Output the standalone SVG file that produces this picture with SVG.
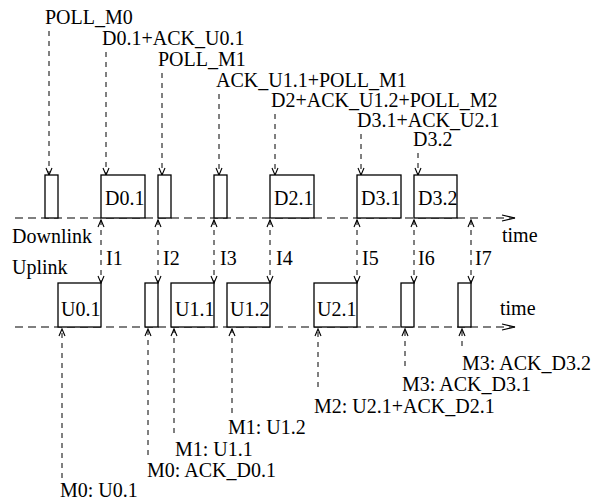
<svg xmlns="http://www.w3.org/2000/svg" width="601" height="502" viewBox="0 0 601 502">
<style>
text{font-family:"Liberation Serif","Times New Roman",serif;font-size:20px;fill:#000}
.box{fill:#fff;stroke:#000;stroke-width:1.3}
.dash{stroke:#000;stroke-width:1;stroke-dasharray:5 5;fill:none}
.axis{stroke:#000;stroke-width:1.1;stroke-dasharray:8 5;fill:none}
</style>
<defs>
<marker id="ah" viewBox="-9 -5 11 10" refX="0" refY="0" markerWidth="11" markerHeight="10" markerUnits="userSpaceOnUse" orient="auto-start-reverse">
<path d="M-7,-3 L0,0 L-7,3" fill="none" stroke="#000" stroke-width="1.1" stroke-dasharray="none"/>
</marker>
<marker id="ax" viewBox="-14 -5 16 10" refX="0" refY="0" markerWidth="16" markerHeight="10" markerUnits="userSpaceOnUse" orient="auto">
<path d="M-13,-3 L0,0 L-13,3" fill="none" stroke="#000" stroke-width="1.1" stroke-dasharray="none"/>
</marker>
</defs>
<rect width="601" height="502" fill="#fff"/>
<g id="connectors">
<line class="axis" x1="15" y1="218" x2="515" y2="218" marker-end="url(#ax)"/>
<line class="axis" x1="15" y1="327" x2="515" y2="327" marker-end="url(#ax)"/>
<line class="dash" x1="49" y1="31" x2="49" y2="175" marker-end="url(#ah)"/>
<line class="dash" x1="106" y1="52" x2="106" y2="175" marker-end="url(#ah)"/>
<line class="dash" x1="162" y1="73" x2="162" y2="175" marker-end="url(#ah)"/>
<line class="dash" x1="219" y1="94" x2="219" y2="175" marker-end="url(#ah)"/>
<line class="dash" x1="275" y1="114" x2="275" y2="175" marker-end="url(#ah)"/>
<line class="dash" x1="361" y1="134" x2="361" y2="175" marker-end="url(#ah)"/>
<line class="dash" x1="418" y1="153" x2="418" y2="175" marker-end="url(#ah)"/>
<line class="dash" x1="101" y1="220" x2="101" y2="283" marker-start="url(#ah)" marker-end="url(#ah)"/>
<line class="dash" x1="158" y1="220" x2="158" y2="283" marker-start="url(#ah)" marker-end="url(#ah)"/>
<line class="dash" x1="214" y1="220" x2="214" y2="283" marker-start="url(#ah)" marker-end="url(#ah)"/>
<line class="dash" x1="270" y1="220" x2="270" y2="283" marker-start="url(#ah)" marker-end="url(#ah)"/>
<line class="dash" x1="357" y1="220" x2="357" y2="283" marker-start="url(#ah)" marker-end="url(#ah)"/>
<line class="dash" x1="414" y1="220" x2="414" y2="283" marker-start="url(#ah)" marker-end="url(#ah)"/>
<line class="dash" x1="471" y1="220" x2="471" y2="283" marker-start="url(#ah)" marker-end="url(#ah)"/>
<line class="dash" x1="62" y1="478" x2="62" y2="329" marker-end="url(#ah)"/>
<line class="dash" x1="148" y1="455" x2="148" y2="329" marker-end="url(#ah)"/>
<line class="dash" x1="174" y1="433" x2="174" y2="329" marker-end="url(#ah)"/>
<line class="dash" x1="232" y1="413" x2="232" y2="329" marker-end="url(#ah)"/>
<line class="dash" x1="318" y1="387" x2="318" y2="329" marker-end="url(#ah)"/>
<line class="dash" x1="405" y1="366" x2="405" y2="329" marker-end="url(#ah)"/>
<line class="dash" x1="462" y1="346" x2="462" y2="329" marker-end="url(#ah)"/>
</g>
<g id="dl1"><rect class="box" x="45" y="175" width="13" height="43"/></g>
<g id="dlD01"><rect class="box" x="101" y="175" width="44" height="43"/><text x="105" y="205">D0.1</text></g>
<g id="dl3"><rect class="box" x="158" y="175" width="13" height="43"/></g>
<g id="dl4"><rect class="box" x="214" y="175" width="13" height="43"/></g>
<g id="dlD21"><rect class="box" x="270" y="175" width="44" height="43"/><text x="274" y="205">D2.1</text></g>
<g id="dlD31"><rect class="box" x="357" y="175" width="44" height="43"/><text x="361" y="205">D3.1</text></g>
<g id="dlD32"><rect class="box" x="414" y="175" width="43" height="43"/><text x="418" y="205">D3.2</text></g>
<g id="ulU01"><rect class="box" x="58" y="283" width="43" height="44"/><text x="61" y="316">U0.1</text></g>
<g id="ul2"><rect class="box" x="145" y="283" width="13" height="44"/></g>
<g id="ulU11"><rect class="box" x="171" y="283" width="43" height="44"/><text x="175" y="316">U1.1</text></g>
<g id="ulU12"><rect class="box" x="227" y="283" width="43" height="44"/><text x="230" y="316">U1.2</text></g>
<g id="ulU21"><rect class="box" x="314" y="283" width="43" height="44"/><text x="317" y="316">U2.1</text></g>
<g id="ul6"><rect class="box" x="401" y="283" width="13" height="44"/></g>
<g id="ul7"><rect class="box" x="458" y="283" width="13" height="44"/></g>
<g id="toplabels">
<text x="45" y="24">POLL_M0</text>
<text x="102" y="45">D0.1+ACK_U0.1</text>
<text x="158" y="66">POLL_M1</text>
<text x="216" y="87">ACK_U1.1+POLL_M1</text>
<text x="271" y="107">D2+ACK_U1.2+POLL_M2</text>
<text x="357" y="127">D3.1+ACK_U2.1</text>
<text x="413" y="146">D3.2</text>
</g>
<g id="axislabels">
<text x="12" y="243">Downlink</text>
<text x="12" y="274">Uplink</text>
<text x="502" y="242">time</text>
<text x="500" y="315">time</text>
</g>
<g id="ilabels">
<text x="106" y="265">I1</text>
<text x="163" y="265">I2</text>
<text x="220" y="265">I3</text>
<text x="276" y="265">I4</text>
<text x="362" y="265">I5</text>
<text x="418" y="265">I6</text>
<text x="475" y="265">I7</text>
</g>
<g id="bottomlabels">
<text x="462" y="370">M3: ACK_D3.2</text>
<text x="402" y="391">M3: ACK_D3.1</text>
<text x="314" y="413">M2: U2.1+ACK_D2.1</text>
<text x="228" y="434">M1: U1.2</text>
<text x="175" y="456">M1: U1.1</text>
<text x="147" y="477">M0: ACK_D0.1</text>
<text x="60" y="497">M0: U0.1</text>
</g>
</svg>
